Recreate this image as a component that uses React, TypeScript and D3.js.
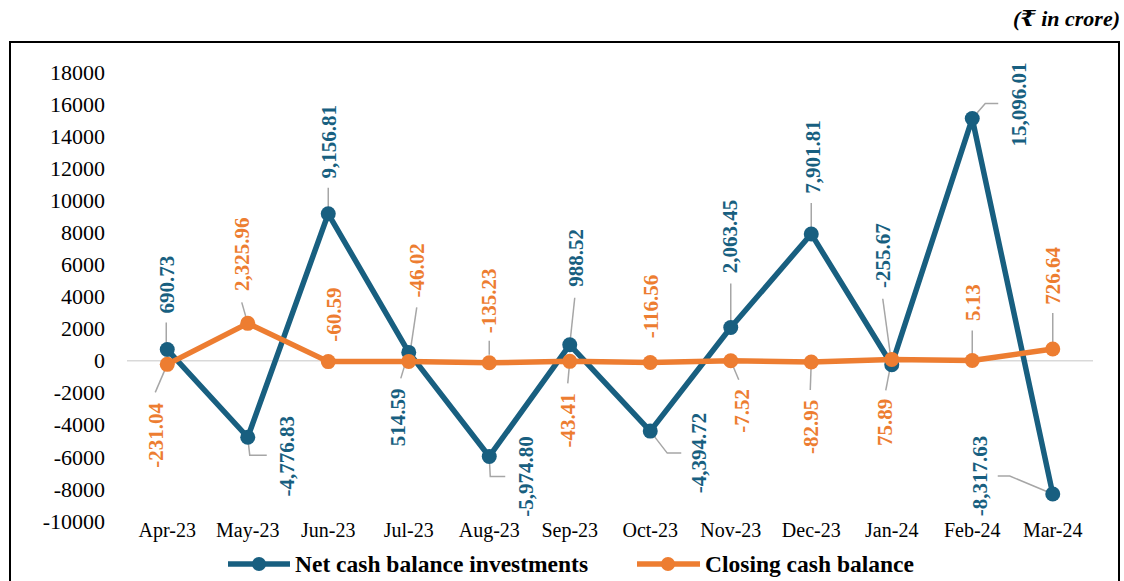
import React from "react";
import * as d3 from "d3";

const categories = ["Apr-23", "May-23", "Jun-23", "Jul-23", "Aug-23", "Sep-23", "Oct-23", "Nov-23", "Dec-23", "Jan-24", "Feb-24", "Mar-24"];
const netCash = [690.73, -4776.83, 9156.81, 514.59, -5974.8, 988.52, -4394.72, 2063.45, 7901.81, -255.67, 15096.01, -8317.63];
const closingCash = [-231.04, 2325.96, -60.59, -46.02, -135.23, -43.41, -116.56, -7.52, -82.95, 75.89, 5.13, 726.64];
const netLabels = ["690.73", "-4,776.83", "9,156.81", "514.59", "-5,974.80", "988.52", "-4,394.72", "2,063.45", "7,901.81", "-255.67", "15,096.01", "-8,317.63"];
const closingLabels = ["-231.04", "2,325.96", "-60.59", "-46.02", "-135.23", "-43.41", "-116.56", "-7.52", "-82.95", "75.89", "5.13", "726.64"];
const yTicks = [18000, 16000, 14000, 12000, 10000, 8000, 6000, 4000, 2000, 0, -2000, -4000, -6000, -8000, -10000];
const seriesNames = ["Net cash balance investments", "Closing cash balance"];

// label layout: text centre offset and leader polyline relative to the data point
type Lay = { dx: number; dy: number; lead: number[][] };
const netLayout: Lay[] = [
  { dx: -1, dy: -65, lead: [[-1, -4], [-1, -27]] },
  { dx: 39, dy: 19, lead: [[0, 0], [2, 18], [19, 18]] },
  { dx: 0, dy: -72, lead: [[0, 0], [0, -26]] },
  { dx: -11, dy: 65, lead: [[0, 0], [-8, 26]] },
  { dx: 36, dy: 20, lead: [[0, 0], [1, 20], [16, 20]] },
  { dx: 6, dy: -87, lead: [[0, 0], [5, -47]] },
  { dx: 48, dy: 22, lead: [[0, 0], [17, 22], [31, 22]] },
  { dx: -1, dy: -91, lead: [[0, 0], [0, -44]] },
  { dx: 1, dy: -77, lead: [[0, 0], [0, -31]] },
  { dx: -9, dy: -109, lead: [[0, 0], [-9, -66]] },
  { dx: 46, dy: -14, lead: [[0, 0], [13, -15], [26, -15]] },
  { dx: -73, dy: -18, lead: [[0, 0], [-43, -18], [-55, -18]] },
];
const closingLayout: Lay[] = [
  { dx: -12, dy: 71, lead: [[0, 0], [-12, 28]] },
  { dx: -6, dy: -69, lead: [[0, 0], [-6, -21]] },
  { dx: 5, dy: -47, lead: [] },
  { dx: 8, dy: -91, lead: [[0, 0], [8, -54]] },
  { dx: -1, dy: -62, lead: [[0, -8], [0, -22]] },
  { dx: -2, dy: 59, lead: [[0, 0], [-2, 22]] },
  { dx: 0, dy: -56, lead: [] },
  { dx: 11, dy: 50, lead: [[0, 0], [8, 19]] },
  { dx: -1, dy: 65, lead: [[0, 0], [-1, 28]] },
  { dx: -7, dy: 63, lead: [[0, 0], [-6, 31]] },
  { dx: 0, dy: -58, lead: [[0, 0], [0, -30]] },
  { dx: 0, dy: -73, lead: [[0, 0], [0, -36]] },
];

const BLUE = "#185F80";
const ORANGE = "#ED7D31";
const LEAD = "#A6A6A6";
const FONT = "Liberation Serif, DejaVu Serif, serif";

export default function App() {
  const W = 1124, H = 581;
  const x = d3.scaleBand<string>().domain(categories).range([127, 1093]);
  const cx = (c: string) => (x(c) as number) + x.bandwidth() / 2;
  const y = d3.scaleLinear().domain([-10000, 18000]).range([521, 72]);
  const line = d3.line<number>().x((_, i) => cx(categories[i])).y((v) => y(v));
  const leadPath = d3.line<number[]>().x((p) => p[0]).y((p) => p[1]);

  const series = [
    { values: netCash, labels: netLabels, layout: netLayout, color: BLUE },
    { values: closingCash, labels: closingLabels, layout: closingLayout, color: ORANGE },
  ];

  return (
    <svg width={W} height={H} style={{ position: "absolute", left: 0, top: 0, background: "#fff", fontFamily: FONT }}>
      <rect x={0} y={0} width={W} height={H} fill="#fff" />
      <text x={1120} y={26} textAnchor="end" fontSize={22} fontWeight="bold" fontStyle="italic">(₹ in crore)</text>
      <rect x={10} y={42} width={1109} height={560} fill="none" stroke="#000" strokeWidth={2} />

      {/* y axis labels */}
      {yTicks.map((t) => (
        <text key={t} x={105} y={y(t)} dy="0.35em" textAnchor="end" fontSize={22}>{t}</text>
      ))}
      {/* zero line */}
      <line x1={127} x2={1093} y1={y(0)} y2={y(0)} stroke="#D9D9D9" strokeWidth={1.5} />
      {/* x labels */}
      {categories.map((c) => (
        <text key={c} x={cx(c)} y={537} textAnchor="middle" fontSize={20}>{c}</text>
      ))}

      {/* leader lines */}
      {series.map((s, si) =>
        s.values.map((v, i) => {
          const L = s.layout[i];
          if (!L.lead.length) return null;
          const px = cx(categories[i]), py = y(v);
          return (
            <path key={`l${si}-${i}`} d={leadPath(L.lead.map((p) => [px + p[0], py + p[1]])) as string} fill="none" stroke={LEAD} strokeWidth={1.5} />
          );
        })
      )}

      {/* lines and markers */}
      {series.map((s, si) => (
        <g key={`s${si}`}>
          <path d={line(s.values) as string} fill="none" stroke={s.color} strokeWidth={5.5} strokeLinejoin="round" />
          {s.values.map((v, i) => (
            <circle key={i} cx={cx(categories[i])} cy={y(v)} r={7.5} fill={s.color} />
          ))}
        </g>
      ))}

      {/* data labels */}
      {series.map((s, si) =>
        s.values.map((v, i) => {
          const L = s.layout[i];
          const tx = cx(categories[i]) + L.dx, ty = y(v) + L.dy;
          return (
            <text key={`t${si}-${i}`} transform={`translate(${tx},${ty}) rotate(-90)`} textAnchor="middle" dy="0.35em" fontSize={21} fontWeight="bold" fill={s.color}>
              {s.labels[i]}
            </text>
          );
        })
      )}

      {/* legend */}
      <g>
        <line x1={228} x2={290} y1={564} y2={564} stroke={BLUE} strokeWidth={5.5} />
        <circle cx={259} cy={564} r={7} fill={BLUE} />
        <text x={295} y={564} dy="0.35em" fontSize={23.5} fontWeight="bold">{seriesNames[0]}</text>
        <line x1={637} x2={700} y1={564} y2={564} stroke={ORANGE} strokeWidth={5.5} />
        <circle cx={668} cy={564} r={7} fill={ORANGE} />
        <text x={705} y={564} dy="0.35em" fontSize={23.5} fontWeight="bold">{seriesNames[1]}</text>
      </g>
    </svg>
  );
}
